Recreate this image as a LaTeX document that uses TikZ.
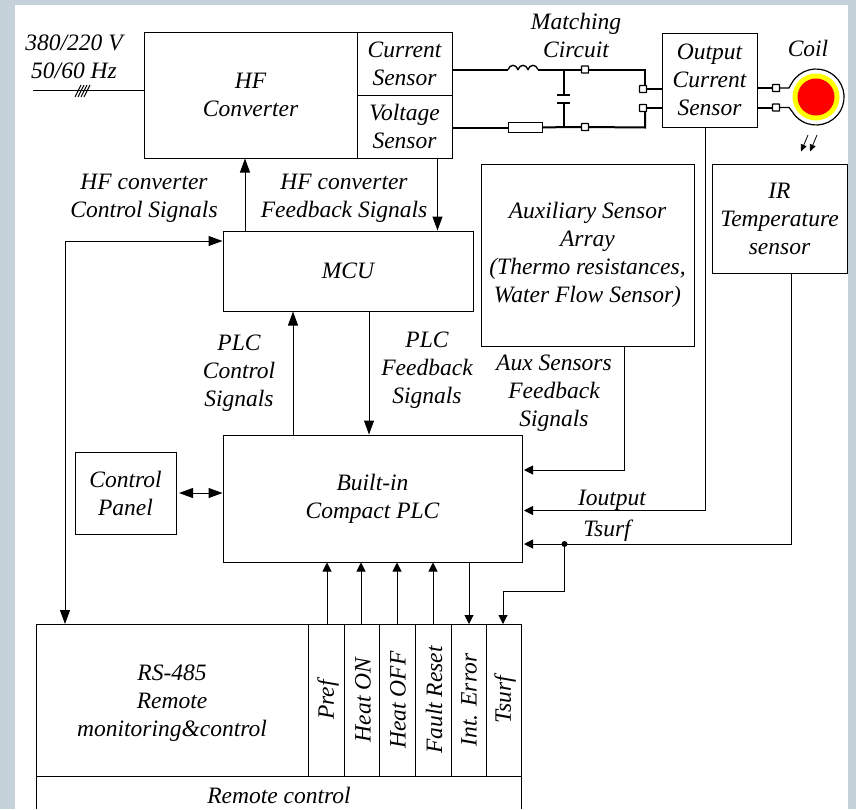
\documentclass[tikz,border=0pt]{standalone}
\usepackage{fontspec}
\setmainfont{Liberation Serif}
\usepackage{tikz}
\usetikzlibrary{arrows.meta,positioning,calc}
\definecolor{framegray}{RGB}{197,210,218}
\definecolor{coilyellow}{RGB}{255,255,0}
\definecolor{coilred}{RGB}{255,0,0}

\begin{document}
\begin{tikzpicture}[
  x=1pt, y=-1pt,
  every node/.style={font=\fontsize{23.5}{28}\selectfont\itshape, align=center, inner sep=0pt},
  block/.style={draw, line width=1pt},
  slot/.style={rotate=90, anchor=center},
  link/.style={line width=1pt},
  arrow/.style={-{Triangle[length=9pt,width=9pt]}, line width=1pt},
  bigarrow/.style={-{Triangle[length=14pt,width=10pt]}, line width=1pt},
  both/.style={{Triangle[length=14pt,width=10pt]}-{Triangle[length=14pt,width=10pt]}, line width=1pt},
  power/.style={line width=2pt},
  port/.style={draw, fill=white, line width=1.4pt, minimum size=7pt, rectangle, rounded corners=0.5pt},
]
\useasboundingbox (0,0) rectangle (856,809);
\fill[framegray] (0,0) rectangle (856,809);
\fill[white] (15,5) rectangle (848,809);

%% Converter and sensors
\node[block, minimum width=213pt, minimum height=126pt] (conv) at (250.5,95) {HF\\Converter};
\node[block, minimum width=95pt, minimum height=63pt] (isense) at (404.5,63.5) {Current\\Sensor};
\node[block, minimum width=95pt, minimum height=63pt] (vsense) at (404.5,126.5) {Voltage\\Sensor};
\node (mains) at (74,57) {380/220 V\\50/60 Hz};
\coordinate (feed) at (33,90);
\draw[link] (feed) -- (conv.west |- feed);
\foreach \xpos in {75,78,81,84}
  \draw[link] (\xpos,97) -- (\xpos+6,85);

%% Controller
\node[block, minimum width=250pt, minimum height=80pt] (mcu) at (348,271) {MCU};
\node[block, minimum width=299pt, minimum height=127pt] (plc) at (372.5,498.5) {Built-in\\Compact PLC};
\node[block, minimum width=101pt, minimum height=82pt] (panel) at (125.5,493) {Control\\Panel};
\node[block, minimum width=213pt, minimum height=182pt] (aux) at (587.5,255) {Auxiliary Sensor\\Array\\(Thermo resistances,\\Water Flow Sensor)};
\node[block, minimum width=95pt, minimum height=94pt] (output) at (709.5,80) {Output\\Current\\Sensor};
\node[block, minimum width=135pt, minimum height=109pt] (irsense) at (779.5,218.5) {IR\\Temperature\\sensor};

%% Matching circuit
\node (match) at (576,35) {Matching\\Circuit};
\node[port] (p1) at (585,69.5) {};
\node[port] (p2) at (585,127) {};
\node[port] (p3) at (643,89) {};
\node[port] (p4) at (643,108) {};
\node[port] (p5) at (776,88) {};
\node[port] (p6) at (776,107.5) {};
\node[draw, fill=white, line width=1pt, minimum width=34pt, minimum height=10pt] (res) at (525,127.5) {};
\coordinate (ind) at (508,69.5);
\coordinate (indend) at (538,69.5);
\draw[power] (isense.east |- ind) -- (ind);
\draw[line width=1.4pt] (ind) .. controls (510,64) and (516,64) .. (518,69.5) .. controls (520,64) and (526,64) .. (528,69.5) .. controls (530,64) and (536,64) .. (indend);
\draw[power] (indend) -- (p1);
\draw[power] (p1) -- (645,69.5) -- (p3.north -| 645,0);
\draw[power] (vsense.east |- res) -- (res);
\draw[power] (res) -- (p2);
\draw[power] (p2) -- (645,127.5) -- (p4.south -| 645,0);
\draw[power] (564,69.5) -- (564,95) (564,103) -- (564,127.5);
\draw[power] (557,95) -- (570,95) (557,103) -- (570,103);
\draw[power] (p3) -- (p3 -| output.west);
\draw[power] (p4) -- (p4 -| output.west);
\draw[power] (output.east |- p5) -- (p5);
\draw[power] (output.east |- p6) -- (p6);

%% Coil
\node (coiltext) at (808,48) {Coil};
\node[circle, fill=coilyellow, minimum size=47pt] (coilring) at (816,97) {};
\node[circle, fill=coilred, minimum size=37pt] (coilcore) at (816,97) {};
\draw[line width=1.2pt] (p5) -- (789,88) -- (791.8,83) arc[start angle=150, end angle=-150, radius=28pt] -- (789,107.5) -- (p6);
\draw[-{Triangle[length=7pt,width=6pt]}, line width=0.8pt] (808,135) -- (801,151.5);
\draw[-{Triangle[length=7pt,width=6pt]}, line width=0.8pt] (817,135) -- (810,151.5);

%% Signal lines
\draw[bigarrow] (mcu.north -| 245,0) -- (conv.south -| 245,0);
\draw[bigarrow] (vsense.south -| 437.5,0) -- (mcu.north -| 437.5,0);
\node (ctrl) at (144,198) {HF converter\\Control Signals};
\node (fb) at (344,198) {HF converter\\Feedback Signals};
\draw[bigarrow] (plc.north -| 293,0) -- (mcu.south -| 293,0);
\draw[bigarrow] (mcu.south -| 369,0) -- (plc.north -| 369,0);
\node (plcctrl) at (239,373) {PLC\\Control\\Signals};
\node (plcfb) at (427,370.5) {PLC\\Feedback\\Signals};
\node (auxfb) at (554,393) {Aux Sensors\\Feedback\\Signals};
\draw[arrow] (aux.south -| 624,0) -- (624,470) -- (524,470);
\draw[arrow] (output.south -| 705,0) -- (705,510.5) -- (524,510.5);
\coordinate (tap) at (564.5,544);
\draw[arrow] (irsense.south -| 791,0) -- (791,544) -- (524,544);
\fill (tap) circle (3pt);
\node (iout) at (612,500) {Ioutput};
\node (tsurf) at (607,531) {Tsurf};
\draw[both] (179,0 |- panel) -- (plc.west |- panel);

%% Remote block
\draw[line width=1pt] (36,809) -- (36,624) -- (521,624) -- (521,809);
\draw[line width=1pt] (36,776) -- (521,776);
\foreach \xpos in {308,344,379,415,451,486}
  \draw[line width=1pt] (\xpos,624) -- (\xpos,776);
\node (rs) at (172,703) {RS-485\\Remote\\monitoring\&control};
\node (remote) at (279,795) {Remote control};
\node[slot] (pref) at (328,700) {Pref};
\node[slot] (on) at (363,700) {Heat ON};
\node[slot] (off) at (398,700) {Heat OFF};
\node[slot] (reset) at (434,700) {Fault Reset};
\node[slot] (err) at (469,700) {Int. Error};
\node[slot] (ts) at (505,700) {Tsurf};
\draw[arrow] (327,624) -- (327,562.5);
\draw[arrow] (361,624) -- (361,562.5);
\draw[arrow] (397,624) -- (397,562.5);
\draw[arrow] (433,624) -- (433,562.5);
\draw[arrow] (469,562) -- (469,624);
\draw[arrow] (tap) -- (564.5,591) -- (503,591) -- (503,624);
\draw[both] (mcu.west |- 0,241) -- (65,241) -- (65,624);
\end{tikzpicture}
\end{document}
